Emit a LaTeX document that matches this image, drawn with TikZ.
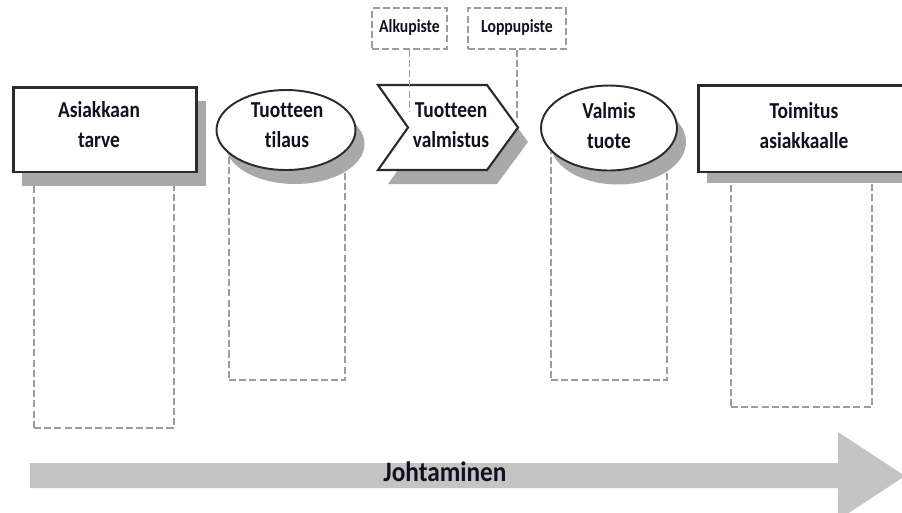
\documentclass[tikz,border=0pt]{standalone}
\usepackage{fontspec}
\usepackage{graphicx}
\setmainfont{Carlito}[Ligatures=NoCommon]
\usetikzlibrary{shadows,shapes.geometric}
\definecolor{shadowgray}{HTML}{A9A9A9}
\definecolor{dashgray}{HTML}{9C9C9C}
\definecolor{arrowgray}{HTML}{C4C4C4}
\definecolor{outline}{HTML}{2B2B2B}
\definecolor{txt}{HTML}{101020}
\newcommand\sqtext[2][0.85]{\scalebox{#1}[1]{\begin{tabular}{@{}c@{}}#2\end{tabular}}}
\tikzset{
  mainfont/.style={font=\bfseries\fontsize{13}{17}\selectfont, text=txt, inner sep=0pt},
  boxshadow/.style={drop shadow={shadow xshift=0.18cm, shadow yshift=-0.28cm, fill=shadowgray, opacity=1}},
  stepbox/.style={draw=outline, line width=1.7pt, fill=white, rectangle, inner sep=0pt},
  ovalbox/.style={draw=outline, line width=1.1pt, fill=white, ellipse, inner sep=0pt},
  dashbox/.style={draw=dashgray, line width=0.9pt, dash pattern=on 4pt off 1.8pt, rectangle, inner sep=0pt},
  tagbox/.style={dashbox, font=\bfseries\fontsize{10.5}{12}\selectfont, text=txt},
  dashline/.style={draw=dashgray, line width=0.9pt, dash pattern=on 4pt off 1.8pt},
}
\begin{document}
\begin{tikzpicture}[x=0.02cm, y=-0.02cm]
\useasboundingbox (0,0) rectangle (902,512);
% dashed columns
\node[dashbox, minimum width=2.8cm, minimum height=5.12cm] (d1) at (104,300) {};
\node[dashbox, minimum width=2.32cm, minimum height=4.6cm] (d2) at (287,265) {};
\node[dashbox, minimum width=2.32cm, minimum height=4.6cm] (d4) at (609,265) {};
\node[dashbox, minimum width=2.82cm, minimum height=4.7cm] (d5) at (801.5,289.5) {};
% shapes
\node[stepbox, boxshadow, minimum width=3.68cm, minimum height=1.7cm] (s1) at (105,129.5) {};
\node[mainfont] (t1) at (99,126.5) {\sqtext{Asiakkaan\\tarve}};
\node[ovalbox, boxshadow, minimum width=2.78cm, minimum height=1.6cm] (s2) at (286,130) {};
\node[mainfont] (t2) at (287,126.5) {\sqtext{Tuotteen\\tilaus}};
% chevron
\fill[shadowgray] (388,99) -- (497,99) -- (528,142) -- (497,184) -- (388,184) -- (418,142) -- cycle;
\draw[outline, line width=1.2pt, fill=white, line join=miter] (378,85) -- (487,85) -- (518,127.5) -- (487,170) -- (378,170) -- (408,127.5) -- cycle;
\node[mainfont] (t3) at (451,126.5) {\sqtext{Tuotteen\\valmistus}};
\node[ovalbox, boxshadow, minimum width=2.72cm, minimum height=1.7cm] (s4) at (609,128) {};
\node[mainfont] (t4) at (609,127.5) {\sqtext{Valmis\\tuote}};
\node[stepbox, drop shadow={shadow xshift=0.18cm, shadow yshift=-0.22cm, fill=shadowgray, opacity=1}, minimum width=4.24cm, minimum height=1.74cm] (s5) at (804,128.5) {};
\node[mainfont] (t5) at (804,127.5) {\sqtext{Toimitus\\asiakkaalle}};
% tags
\node[tagbox, minimum width=1.5cm, minimum height=0.82cm] (al) at (409.5,28.5) {\sqtext{Alkupiste}};
\node[tagbox, minimum width=1.96cm, minimum height=0.82cm] (lo) at (517,28.5) {\sqtext{Loppupiste}};
\coordinate (alend) at (409.5,112);
\coordinate (loend) at (517,118);
\draw[dashline] (al.south) -- (alend);
\draw[dashline] (lo.south) -- (loend);
% management arrow
\fill[arrowgray] (30,463) -- (838,463) -- (838,432) -- (905,476) -- (838,520) -- (838,488) -- (30,488) -- cycle;
\node[font=\bfseries\fontsize{16}{18}\selectfont, text=txt, inner sep=0pt] (jo) at (445,475.5) {\sqtext[0.9]{Johtaminen}};
\end{tikzpicture}
\end{document}
